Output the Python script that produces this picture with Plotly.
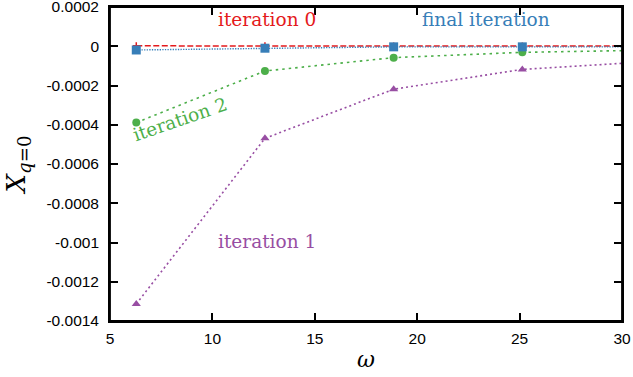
import plotly.graph_objects as go

omega = [6.283, 12.566, 18.850, 25.133, 31.416]
iter0 = [0.000002, 0.000002, 0.000001, 0.000001, 0.000001]
iter1 = [-0.001313, -0.000469, -0.000219, -0.000118, -0.000078]
iter2 = [-0.000389, -0.000126, -0.000058, -0.000031, -0.000020]
final = [-0.000019, -0.000010, -0.000003, -0.000003, -0.000003]

RED = "#e41a1c"
BLUE = "#377eb8"
GREEN = "#4daf4a"
PURPLE = "#984ea3"

fig = go.Figure()
fig.add_trace(go.Scatter(x=omega, y=iter1, mode="lines+markers",
                         line=dict(color=PURPLE, width=1.6, dash="2px,3px"),
                         marker=dict(symbol="triangle-up", size=8, color=PURPLE)))
fig.add_trace(go.Scatter(x=omega, y=iter2, mode="lines+markers",
                         line=dict(color=GREEN, width=1.6, dash="2.5px,4px"),
                         marker=dict(symbol="circle", size=8, color=GREEN)))
fig.add_trace(go.Scatter(x=omega, y=iter0, mode="lines+markers",
                         line=dict(color=RED, width=1.5, dash="6px,2.5px"),
                         marker=dict(symbol="cross-thin", size=5,
                                     line=dict(color=RED, width=1.5))))
fig.add_trace(go.Scatter(x=omega, y=final, mode="lines+markers",
                         line=dict(color=BLUE, width=1.4, dash="1.3px,1.3px"),
                         marker=dict(symbol="square", size=9, color=BLUE)))

serif = "DejaVu Serif"
ann = [
    dict(text="iteration 0", x=12.65, y=0.000136, color=RED, angle=0),
    dict(text="final iteration", x=23.35, y=0.000136, color=BLUE, angle=0),
    dict(text="iteration 2", x=8.4, y=-0.000375, color=GREEN, angle=-19),
    dict(text="iteration 1", x=12.65, y=-0.000995, color=PURPLE, angle=0),
]
for a in ann:
    fig.add_annotation(text=a["text"], x=a["x"], y=a["y"], xref="x", yref="y",
                       showarrow=False, textangle=a["angle"],
                       font=dict(family=serif, size=18.5, color=a["color"]))

tickfont = dict(family="Liberation Sans, Arial, sans-serif", size=15.5, color="black")
axis_common = dict(showline=True, linecolor="black", linewidth=1.8, mirror="ticks",
                   ticks="inside", ticklen=8, tickwidth=1.5, tickcolor="black",
                   showgrid=False, zeroline=False, automargin=False,
                   ticklabeloverflow="allow",
                   tickfont=tickfont)

fig.update_layout(
    width=633, height=377,
    margin=dict(l=110, r=11, t=7, b=56),
    paper_bgcolor="white", plot_bgcolor="white",
    font=tickfont,
    showlegend=False,
    xaxis=dict(range=[5, 30], tickvals=[5, 10, 15, 20, 25, 30],
               ticklabelstandoff=2,
               title=dict(text="<i>ω</i>", font=dict(family=serif, size=22, color="black"),
                          standoff=6),
               **axis_common),
    yaxis=dict(range=[-0.0014, 0.0002],
               tickvals=[-0.0014, -0.0012, -0.001, -0.0008, -0.0006, -0.0004, -0.0002, 0, 0.0002],
               ticktext=["-0.0014", "-0.0012", "-0.001", "-0.0008", "-0.0006", "-0.0004",
                         "-0.0002", "0", "0.0002"],
               ticklabelstandoff=6,
               title=dict(text="<i>X</i><sub><i>q</i>=0</sub>",
                          font=dict(family=serif, size=26, color="black"), standoff=13),
               **axis_common),
)
fig.add_shape(type="rect", xref="paper", yref="paper", x0=0, y0=0, x1=1, y1=1,
              line=dict(color="black", width=1.8), layer="above")

fig.write_html("out.html")
